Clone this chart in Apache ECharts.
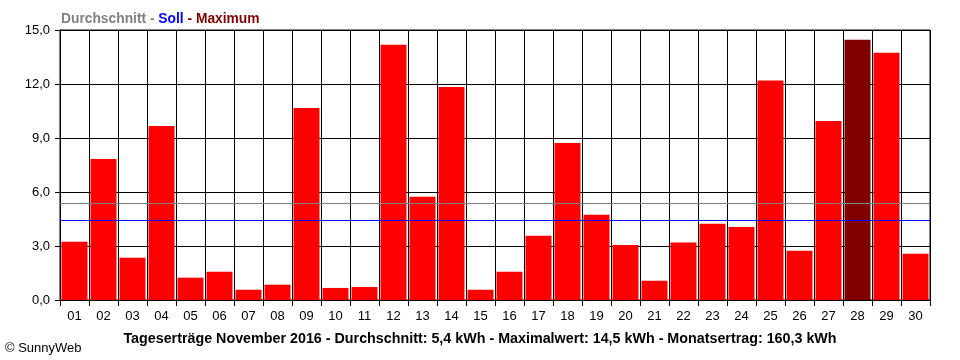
<!DOCTYPE html>
<html>
<head>
<meta charset="utf-8">
<script src="https://cdn.jsdelivr.net/npm/echarts@6/dist/echarts.min.js"></script>
<style>html,body{margin:0;padding:0;background:#fff}#c{width:960px;height:360px}</style>
</head>
<body>
<div id="c"></div>
<script>
const days = ['01','02','03','04','05','06','07','08','09','10','11','12','13','14','15','16','17','18','19','20','21','22','23','24','25','26','27','28','29','30'];
const yields = [3.24,7.83,2.35,9.67,1.24,1.57,0.57,0.85,10.67,0.67,0.72,14.18,5.74,11.83,0.57,1.57,3.57,8.72,4.74,3.06,1.07,3.19,4.24,4.06,12.19,2.74,9.94,14.46,13.74,2.57];
const average = 5.37;
const target = 4.43;
const maxDay = '28';
const yTicks = [0, 3, 6, 9, 12, 15];
const legendText = ['Durchschnitt', 'Soll', 'Maximum'];
const footerText = 'Tageserträge November 2016 - Durchschnitt: 5,4 kWh - Maximalwert: 14,5 kWh - Monatsertrag: 160,3 kWh';
const copyright = '© SunnyWeb';

const font = 'Arial, "Liberation Sans", sans-serif';
const hs = 13.8;
const chart = echarts.init(document.getElementById('c'), null, {renderer: 'canvas'});
chart.setOption({
  animation: false,
  backgroundColor: '#ffffff',
  title: [
    {
      left: 56, top: 7,
      text: '{a|' + legendText[0] + ' -} {b|' + legendText[1] + '} {c|- ' + legendText[2] + '}',
      textStyle: {
        fontFamily: font, fontSize: hs, fontWeight: 'bold',
        rich: {
          a: {color: '#808080', fontFamily: font, fontSize: hs, fontWeight: 'bold'},
          b: {color: '#0000ff', fontFamily: font, fontSize: hs, fontWeight: 'bold'},
          c: {color: '#800000', fontFamily: font, fontSize: hs, fontWeight: 'bold'}
        }
      }
    },
    {
      left: 'center', top: 327,
      text: footerText,
      textStyle: {fontFamily: font, fontSize: 14.3, fontWeight: 'bold', color: '#000'}
    },
    {
      left: 0, top: 337,
      text: copyright,
      textStyle: {fontFamily: font, fontSize: 13, fontWeight: 'normal', color: '#000'}
    }
  ],
  grid: {left: 60, right: 30, top: 30, bottom: 60, show: true, borderColor: '#000', borderWidth: 1},
  xAxis: {
    type: 'category',
    data: days,
    boundaryGap: true,
    axisLine: {lineStyle: {color: '#000', width: 1}},
    axisTick: {show: true, length: 6, lineStyle: {color: '#000'}, alignWithLabel: false},
    axisLabel: {color: '#000', fontFamily: font, fontSize: 13, margin: 10, interval: 0},
    splitLine: {show: true, interval: 0, lineStyle: {color: '#000', width: 1}}
  },
  yAxis: {
    type: 'value',
    min: 0, max: 15, interval: 3,
    axisLine: {show: true, lineStyle: {color: '#000', width: 1}},
    axisTick: {show: true, length: 5, lineStyle: {color: '#000'}},
    axisLabel: {color: '#000', fontFamily: font, fontSize: 13, margin: 10,
      formatter: v => yTicks.includes(v) ? v.toFixed(1).replace('.', ',') : ''},
    splitLine: {show: true, lineStyle: {color: '#000', width: 1}}
  },
  series: [{
    type: 'bar',
    data: yields.map((v, i) => ({value: v, itemStyle: {color: days[i] === maxDay ? '#800000' : '#ff0000'}})),
    barWidth: 26,
    itemStyle: {color: '#ff0000'},
    markLine: {
      silent: true,
      symbol: ['none', 'none'],
      label: {show: false},
      animation: false,
      data: [
        {yAxis: average, lineStyle: {color: '#808080', width: 1, type: 'solid'}},
        {yAxis: target, lineStyle: {color: '#0000ff', width: 1, type: 'solid'}}
      ]
    },
    z: 2
  }]
});
</script>
</body>
</html>
